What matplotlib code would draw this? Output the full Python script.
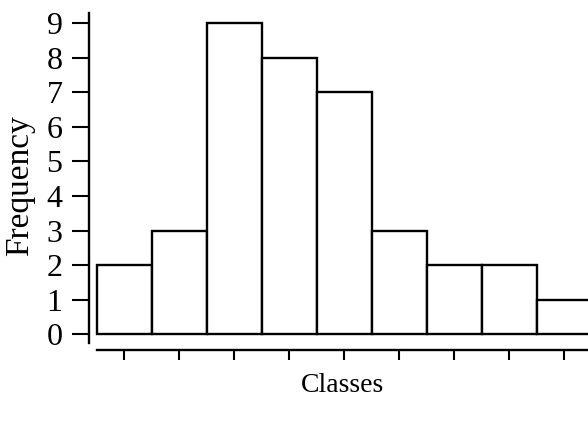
import matplotlib
matplotlib.use("Agg")
import matplotlib.pyplot as plt
import numpy as np

# histogram data
classes = np.arange(9)
frequency = [2, 3, 9, 8, 7, 3, 2, 2, 1]
y_ticks = list(range(10))

plt.rcParams['font.family'] = ['Liberation Serif', 'DejaVu Serif']

fig = plt.figure(figsize=(5.88, 4.25), dpi=100)
ax = fig.add_axes([89 / 588, 1 - 350 / 425, 1 - 89 / 588, (350 - 13) / 425])

ax.bar(classes, frequency, width=1.0, align='edge', color='white',
       edgecolor='black', linewidth=1.7)

ax.set_xlim(-0.145, 8.93)
ax.set_ylim(-0.46, 9.3)

ax.set_yticks(y_ticks)
ax.set_xticks(classes + 0.5)
ax.set_xticklabels([])

for s in ['top', 'right']:
    ax.spines[s].set_visible(False)
ax.spines['left'].set_bounds(-0.26, 9.3)
ax.spines['bottom'].set_bounds(0, 8.93)
ax.spines['left'].set_linewidth(1.7)
ax.spines['bottom'].set_linewidth(1.7)

ax.tick_params(axis='y', length=12, width=1.5, pad=7, labelsize=23)
ax.tick_params(axis='x', length=7, width=1.5)

# axis titles placed where they sit in the reference
fig.text(20 / 588, 1 - 186 / 425, 'Frequency', fontsize=24, rotation=90,
         ha='center', va='center')
fig.text(343 / 588, 1 - 385 / 425, 'Classes', fontsize=20, ha='center', va='center')

fig.savefig('out.png', dpi=100, facecolor='white')
